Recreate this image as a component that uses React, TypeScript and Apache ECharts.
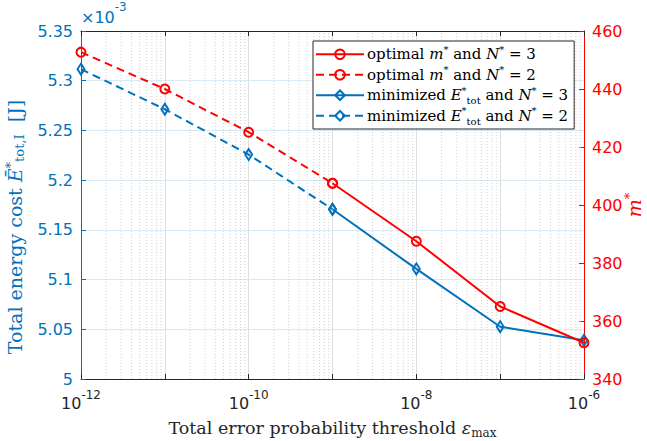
import React, { useEffect, useRef } from 'react';
import * as echarts from 'echarts';

// x: total error probability threshold
const epsN2 = [1e-12, 1e-11, 1e-10, 1e-9];
const epsN3 = [1e-9, 1e-8, 1e-7, 1e-6];
// optimal m* (right axis)
const mOptN3 = [407.5, 387.5, 365, 352.5];
const mOptN2 = [452.7, 440, 425.1, 407.5];
// minimized energy (left axis, x10^-3 J)
const energyN3 = [5.1707, 5.1107, 5.0526, 5.039];
const energyN2 = [5.3116, 5.2713, 5.2257, 5.1707];

const seriesNames = ['mN3', 'mN2', 'eN3', 'eN2'];
const legendLabels: Record<string, string> = {
  mN3: 'optimal {i|m}{sup|*} and {i|N}{sup|*} = 3',
  mN2: 'optimal {i|m}{sup|*} and {i|N}{sup|*} = 2',
  eN3: 'minimized {i|E}{sup|*}{sub|tot} and {i|N}{sup|*} = 3',
  eN2: 'minimized {i|E}{sup|*}{sub|tot} and {i|N}{sup|*} = 2',
};

const xMin = 1e-12;
const xMax = 1e-6;
const yLeftTicks = { min: 5, max: 5.35, interval: 0.05 };
const yRightTicks = { min: 340, max: 460, interval: 20 };

const RED = '#FF0000';
const BLUE = '#0072BD';
const DARK = '#262626';
const SERIF = '"DejaVu Serif", "Liberation Serif", serif';
const SANS = '"DejaVu Sans", "Liberation Sans", sans-serif';

function minorGridValues(): number[] {
  const out: number[] = [];
  for (let e = -12; e < -6; e++) {
    for (let k = 2; k <= 9; k++) out.push(k * Math.pow(10, e));
  }
  return out;
}

const legendRich = {
  i: { fontFamily: SERIF, fontStyle: 'italic', fontSize: 15, lineHeight: 20, color: '#000' },
  sup: { fontFamily: SERIF, fontSize: 10, verticalAlign: 'top', lineHeight: 10, color: '#000' },
  sub: { fontFamily: SERIF, fontSize: 10, verticalAlign: 'bottom', lineHeight: 10, color: '#000' },
};

export default function App() {
  const ref = useRef<HTMLDivElement>(null);
  useEffect(() => {
    document.body.style.margin = '0';
    if (!ref.current) return;
    const chart = echarts.init(ref.current, undefined, { renderer: 'svg' });

    const markerCircle = (dashed: boolean) => ({
      symbol: 'circle',
      symbolSize: 9,
      itemStyle: { color: 'rgba(255,255,255,0)', borderColor: RED, borderWidth: 2 },
      lineStyle: { color: RED, width: 2, type: dashed ? [8, 5] : 'solid' },
    });
    const markerDiamond = (dashed: boolean) => ({
      symbol: 'diamond',
      symbolSize: [7, 11],
      itemStyle: { color: 'rgba(255,255,255,0)', borderColor: BLUE, borderWidth: 2 },
      lineStyle: { color: BLUE, width: 2, type: dashed ? [8, 5] : 'solid' },
    });

    // vertical dotted minor grid segments (grid decoration, positioned by the log axis)
    const minorGridData: any[] = [];
    minorGridValues().forEach((v) => {
      minorGridData.push([v, yLeftTicks.min], [v, yLeftTicks.max], [v, '-']);
    });

    const option: any = {
      animation: false,
      backgroundColor: '#fff',
      grid: { left: 81, right: 63, top: 31, bottom: 62, containLabel: false, outerBoundsMode: 'none' },
      graphic: [
        {
          type: 'text',
          left: 81,
          top: 1,
          style: {
            rich: {
              b: { fontFamily: SANS, fontSize: 16, fill: BLUE, verticalAlign: 'bottom', lineHeight: 24 },
              s: { fontFamily: SANS, fontSize: 12, fill: BLUE, verticalAlign: 'top', lineHeight: 13 },
            },
            text: '{b|×10}{s|-3}',
          },
        },
        {
          type: 'text',
          x: 634,
          y: 205,
          rotation: Math.PI / 2,
          style: {
            text: '{i|m}{sup|*}',
            align: 'center',
            verticalAlign: 'middle',
            rich: {
              i: { fontFamily: SERIF, fontStyle: 'italic', fontSize: 19, lineHeight: 22, fill: RED },
              sup: { fontFamily: SERIF, fontSize: 13, verticalAlign: 'top', lineHeight: 12, fill: RED },
            },
          },
        },
      ],
      legend: {
        data: seriesNames,
        orient: 'vertical',
        left: 313,
        top: 41,
        itemWidth: 48,
        itemHeight: 12,
        itemGap: 0,
        padding: [3, 6, 3, 2],
        backgroundColor: '#fff',
        borderColor: DARK,
        borderWidth: 1,
        borderRadius: 0,
        formatter: (name: string) => legendLabels[name],
        textStyle: {
          fontFamily: SERIF,
          fontSize: 15,
          color: '#000',
          lineHeight: 20.5,
          padding: [0, 0, 0, -2],
          rich: legendRich,
        },
      },
      xAxis: [
        {
          type: 'log',
          min: xMin,
          max: xMax,
          logBase: 10,
          splitNumber: 6,
          position: 'bottom',
          name: 'Total error probability threshold {i|ε}{sub|max}',
          nameLocation: 'middle',
          nameGap: 38,
          nameTextStyle: {
            fontFamily: SERIF,
            fontSize: 17.5,
            color: DARK,
            rich: {
              i: { fontFamily: SERIF, fontStyle: 'italic', fontSize: 17.5, lineHeight: 22, color: DARK },
              sub: { fontFamily: SERIF, fontSize: 12, verticalAlign: 'bottom', lineHeight: 12, color: DARK },
            },
          },
          axisLine: { lineStyle: { color: DARK, width: 1 } },
          axisTick: { inside: true, length: 5, lineStyle: { color: DARK } },
          axisLabel: {
            margin: 10,
            formatter: (v: number) => {
              const e = Math.round(Math.log10(v));
              if (e % 2 !== 0) return '';
              return `{b|10}{s|${e}}`;
            },
            rich: {
              b: { fontFamily: SANS, fontSize: 16, color: DARK, verticalAlign: 'bottom', lineHeight: 22 },
              s: { fontFamily: SANS, fontSize: 12, color: DARK, verticalAlign: 'top', lineHeight: 12 },
            },
          },
          splitLine: { show: true, lineStyle: { color: '#dfdfdf', width: 1 } },
        },
        {
          type: 'log',
          min: xMin,
          max: xMax,
          logBase: 10,
          splitNumber: 6,
          position: 'top',
          axisLine: { show: true, lineStyle: { color: DARK, width: 1 } },
          axisTick: { inside: true, length: 5, lineStyle: { color: DARK } },
          axisLabel: { show: false },
          splitLine: { show: false },
        },
      ],
      yAxis: [
        {
          type: 'value',
          position: 'left',
          min: yLeftTicks.min,
          max: yLeftTicks.max,
          interval: yLeftTicks.interval,
          name: 'Total energy cost {bar|Ē}{sup|*}{sub|tot,I}  [J]',
          nameLocation: 'middle',
          nameRotate: 90,
          nameGap: 53,
          nameTextStyle: {
            fontFamily: SERIF,
            fontSize: 19,
            color: BLUE,
            padding: [0, 44, 0, 0],
            rich: {
              bar: { fontFamily: SERIF, fontStyle: 'italic', fontSize: 19, lineHeight: 22, color: BLUE },
              sup: { fontFamily: SERIF, fontSize: 13, verticalAlign: 'top', lineHeight: 12, color: BLUE },
              sub: { fontFamily: SERIF, fontSize: 13, verticalAlign: 'bottom', lineHeight: 12, color: BLUE },
            },
          },
          axisLine: { show: true, lineStyle: { color: BLUE, width: 1 } },
          axisTick: { show: true, inside: true, length: 5, lineStyle: { color: BLUE } },
          axisLabel: {
            fontFamily: SANS,
            fontSize: 16,
            color: BLUE,
            margin: 8,
            formatter: (v: number) => String(parseFloat(v.toFixed(2))),
          },
          splitLine: { show: true, lineStyle: { color: '#d9eaf5', width: 1 } },
        },
        {
          type: 'value',
          position: 'right',
          min: yRightTicks.min,
          max: yRightTicks.max,
          interval: yRightTicks.interval,
          axisLine: { show: true, lineStyle: { color: RED, width: 1 } },
          axisTick: { show: true, inside: true, length: 5, lineStyle: { color: RED } },
          axisLabel: { fontFamily: SANS, fontSize: 16, color: RED, margin: 8 },
          splitLine: { show: false },
        },
      ],
      series: [
        {
          name: 'minorGrid',
          type: 'line',
          xAxisIndex: 0,
          yAxisIndex: 0,
          data: minorGridData,
          showSymbol: false,
          symbol: 'none',
          silent: true,
          connectNulls: false,
          z: 1,
          lineStyle: { color: '#d2d2d2', width: 1, type: [1, 2] },
          emphasis: { disabled: true },
          tooltip: { show: false },
        },
        {
          name: 'mN3',
          type: 'line',
          yAxisIndex: 1,
          data: epsN3.map((x, i) => [x, mOptN3[i]]),
          ...markerCircle(false),
          z: 4,
        },
        {
          name: 'mN2',
          type: 'line',
          yAxisIndex: 1,
          data: epsN2.map((x, i) => [x, mOptN2[i]]),
          ...markerCircle(true),
          z: 4,
        },
        {
          name: 'eN3',
          type: 'line',
          yAxisIndex: 0,
          data: epsN3.map((x, i) => [x, energyN3[i]]),
          ...markerDiamond(false),
          z: 3,
        },
        {
          name: 'eN2',
          type: 'line',
          yAxisIndex: 0,
          data: epsN2.map((x, i) => [x, energyN2[i]]),
          ...markerDiamond(true),
          z: 3,
        },
      ],
    };
    chart.setOption(option);
    return () => chart.dispose();
  }, []);
  return <div ref={ref} style={{ width: 647, height: 441 }} />;
}
